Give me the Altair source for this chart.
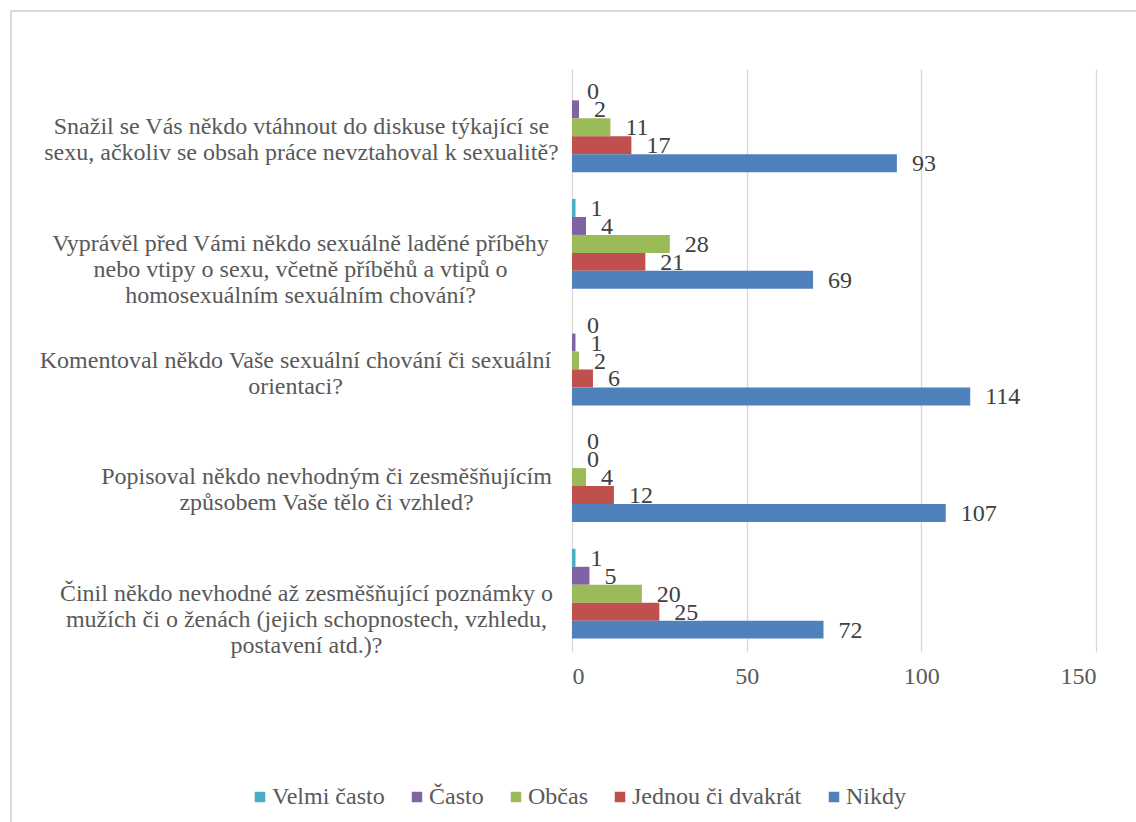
import altair as alt
import pandas as pd

# --- data -------------------------------------------------------------
categories = [
    ["Snažil se Vás někdo vtáhnout do diskuse týkající se",
     "sexu, ačkoliv se obsah práce nevztahoval k sexualitě?"],
    ["Vyprávěl před Vámi někdo sexuálně laděné příběhy",
     "nebo vtipy o sexu, včetně příběhů a vtipů o",
     "homosexuálním sexuálním chování?"],
    ["Komentoval někdo Vaše sexuální chování či sexuální",
     "orientaci?"],
    ["Popisoval někdo nevhodným či zesměšňujícím",
     "způsobem Vaše tělo či vzhled?"],
    ["Činil někdo nevhodné až zesměšňující poznámky o",
     "mužích či o ženách (jejich schopnostech, vzhledu,",
     "postavení atd.)?"],
]
series = ["Velmi často", "Často", "Občas", "Jednou či dvakrát", "Nikdy"]
velmi_casto = [0, 1, 0, 0, 1]
casto = [2, 4, 1, 0, 5]
obcas = [11, 28, 2, 4, 20]
jednou_ci_dvakrat = [17, 21, 6, 12, 25]
nikdy = [93, 69, 114, 107, 72]
x_ticks = [0, 50, 100, 150]

colors = ["#4BACC6", "#8064A2", "#9BBB59", "#C0504D", "#4F81BD"]
# horizontal padding of each (centre-aligned) category label block
label_pad = [271, 272, 277, 246, 266]

# --- table ------------------------------------------------------------
keys = ["|".join(c) for c in categories]
values_by_series = [velmi_casto, casto, obcas, jednou_ci_dvakrat, nikdy]
rows = []
for si, s in enumerate(series):
    for ci, k in enumerate(keys):
        rows.append({"otazka": k, "odpoved": s, "pocet": values_by_series[si][ci]})
df = pd.DataFrame(rows)

FONT = "Times New Roman"
TXT = "#595959"

pad_cond = {
    "condition": [
        {"test": f"datum.value === '{k}'", "value": p} for k, p in zip(keys, label_pad)
    ],
    "value": 260,
}

y_enc = alt.Y(
    "otazka:N",
    sort=keys,
    title=None,
    scale=alt.Scale(paddingInner=0.23, paddingOuter=0.115),
    axis=alt.Axis(
        labelExpr="split(datum.label, '|')",
        labelAlign="center",
        labelBaseline="middle",
        labelPadding=pad_cond,
        labelFont=FONT,
        labelFontSize=24,
        labelColor=TXT,
        labelLineHeight=26,
        labelLimit=0,
        ticks=False,
        tickSize=0,
        domain=False,
        grid=False,
    ),
)
yoff = alt.YOffset("odpoved:N", sort=series)

base = alt.Chart(df)

bars = base.mark_bar().encode(
    x=alt.X(
        "pocet:Q",
        title=None,
        scale=alt.Scale(domain=[0, 150], nice=False),
        axis=alt.Axis(
            values=x_ticks,
            labelFont=FONT,
            labelFontSize=24,
            labelColor=TXT,
            labelPadding=12,
            ticks=False,
            domain=False,
            grid=True,
            gridColor="#d9d9d9",
            gridWidth=1.3,
        ),
    ),
    y=y_enc,
    yOffset=yoff,
    color=alt.Color(
        "odpoved:N",
        sort=series,
        scale=alt.Scale(domain=series, range=colors),
        legend=alt.Legend(
            title=None,
            orient="none",
            legendX=-324,
            legendY=716,
            direction="horizontal",
            columns=5,
            symbolType="square",
            symbolSize=110,
            symbolStrokeWidth=0,
            labelFont=FONT,
            labelFontSize=24,
            labelColor=TXT,
            labelLimit=0,
            labelOffset=0,
            columnPadding=20,
        ),
    ),
)

labels = base.mark_text(
    align="left", baseline="middle", dx=15, dy=1,
    font=FONT, fontSize=24, color="#404040",
).encode(
    x="pocet:Q",
    y=alt.Y("otazka:N", sort=keys),
    yOffset=yoff,
    text="pocet:Q",
)

frame_data = alt.Data(values=[{}])
frame_left = alt.Chart(frame_data).mark_rule(color="#d9d9d9", strokeWidth=2).encode(
    x=alt.value(-561), y=alt.value(-59), y2=alt.value(760)
)
frame_top = alt.Chart(frame_data).mark_rule(color="#d9d9d9", strokeWidth=2).encode(
    x=alt.value(-562), x2=alt.value(570), y=alt.value(-58)
)

chart = (
    alt.layer(bars, labels, frame_left, frame_top)
    .properties(
        width=524,
        height=583,
        padding={"left": 572, "top": 69, "right": 40, "bottom": 170},
        autosize=alt.AutoSizeParams(type="none"),
        background="white",
    )
    .configure_view(stroke=None)
)

chart.save("out.html", embed_options={"renderer": "svg", "actions": False})
